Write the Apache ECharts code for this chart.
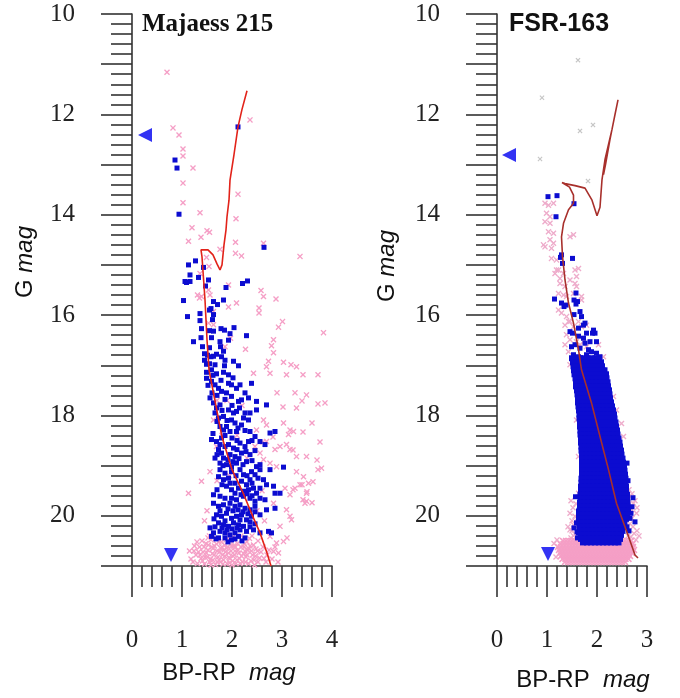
<!DOCTYPE html>
<html>
<head>
<meta charset="utf-8">
<script src="https://cdn.jsdelivr.net/npm/echarts@6/dist/echarts.min.js"></script>
<style>html,body{margin:0;padding:0;background:#fff}#c{width:680px;height:698px}</style>
</head>
<body>
<div id="c"></div>
<script>
// ---------------- DATA ----------------
const titles = ['Majaess 215', 'FSR-163'];
const xTicksLeft = [0, 1, 2, 3, 4];
const xTicksRight = [0, 1, 2, 3];
const yTickLabels = [10, 12, 14, 16, 18, 20];

// Majaess 215 : isochrone
const leftIsochrone = [[2.78,21.0],[2.70,20.74],[2.56,20.34],[2.42,20.02],[2.22,19.54],[2.00,19.08],[1.80,18.43],[1.54,17.09],[1.50,16.49],[1.46,15.70],[1.40,14.84],[1.38,14.70],[1.52,14.70],[1.62,14.80],[1.70,14.98],[1.76,15.10],[1.80,15.00],[1.84,14.60],[1.88,14.30],[1.90,14.04],[1.94,13.71],[1.96,13.31],[2.04,12.80],[2.12,12.25],[2.20,11.90],[2.30,11.53]];

// Majaess 215 : members (blue squares)
const leftBlue = [[2.12,12.25],[0.86,12.91],[0.90,13.07],[0.94,13.99],[2.64,14.65],
[1.13,15.00],[1.27,14.92],[1.43,15.05],[1.16,15.20],[1.33,15.25],[1.06,15.33],[1.09,15.35],[1.16,15.33],[1.53,15.30],[1.47,15.42],[1.88,15.45],[2.21,15.37],[2.31,15.32],
[1.03,15.71],[1.63,15.73],[1.71,15.79],[1.83,15.70],[1.55,15.90],[1.58,15.87],[1.36,15.97],[1.63,15.99],[1.11,16.03],[1.36,16.11],[1.61,16.09],[1.39,16.27],[1.78,16.27],[1.85,16.30],[2.04,16.25],[1.55,16.31],[1.63,16.32],[1.96,16.37],[2.29,16.41],[1.38,16.45],[1.59,16.45],[1.23,16.53],[1.76,16.53],[1.93,16.50],[1.41,16.63],[1.55,16.65],[1.77,16.63],[1.83,16.72],[1.69,16.78],[1.45,16.77],[1.51,16.80],[1.58,16.83],[1.63,16.82],[1.79,16.83],[1.86,16.90],[2.03,16.92],[2.13,17.01],[1.45,16.90],[1.49,16.98],[1.55,16.97],[1.66,16.99],[1.85,17.01],
[1.49,17.14],[1.59,17.09],[1.69,17.17],[1.83,17.14],[1.93,17.19],[1.49,17.26],[1.59,17.32],[1.66,17.39],[1.73,17.46],[1.93,17.36],[1.99,17.39],[2.09,17.46],[2.16,17.39],[2.39,17.36],
[1.79,17.52],[1.89,17.55],[1.99,17.62],[2.13,17.72],[2.19,17.69],[2.33,17.65],[2.49,17.72],[2.69,17.79],[1.63,17.75],[1.69,17.85],[1.76,17.79],[2.49,17.89],[2.36,17.95],[1.93,17.89],[2.03,17.95],[2.09,17.92],
[1.66,17.95],[1.73,18.05],[1.83,18.02],[2.23,18.05],[2.33,18.09],[2.19,18.19],[1.99,18.09],[2.06,18.15],[1.89,18.22],[1.76,18.22],[1.83,18.29],[1.96,18.32],[2.09,18.32],[2.36,18.32],[2.46,18.42],[2.76,18.35],[2.86,18.32],
[1.59,18.48],[1.69,18.52],[1.79,18.45],[1.93,18.58],[2.03,18.65],[2.16,18.55],[2.26,18.62],[2.33,18.52],[2.56,18.52],[2.66,18.58],[1.73,18.68],[1.79,18.75],[1.66,18.85],[1.83,18.85],[1.96,18.78],[2.06,18.82],[2.19,18.75],[2.36,18.78],
[1.76,18.95],[1.89,18.98],[1.99,19.02],[2.09,18.95],[2.29,18.92],[2.49,19.02],[2.56,18.98],[3.03,19.03],[1.76,19.08],[1.86,19.15],[1.99,19.12],[2.16,19.08],[2.23,19.18],[2.39,19.12],[2.46,19.18],[2.56,19.08],[2.63,19.28],[2.76,19.08],
[1.73,19.22],[1.83,19.28],[1.93,19.25],[2.06,19.35],[2.19,19.31],[2.29,19.38],[2.36,19.28],[2.69,19.38],[2.83,19.41],[1.89,19.41],[1.99,19.48],[2.13,19.45],[2.23,19.51],[2.33,19.48],[2.43,19.45],[2.49,19.55],[2.86,19.55],[2.96,19.55],
[1.63,19.58],[1.76,19.61],[1.86,19.65],[1.99,19.65],[2.09,19.68],[2.23,19.61],[2.36,19.65],[2.46,19.71],[2.56,19.65],[2.66,19.68],[1.63,19.75],[1.73,19.81],[1.83,19.78],[1.96,19.75],[2.06,19.81],[2.16,19.78],[2.26,19.85],[2.36,19.88],[2.46,19.81],[2.56,19.98],[2.69,19.88],[2.86,19.85],
[1.69,19.98],[1.79,20.01],[1.89,19.95],[1.99,20.05],[2.09,20.01],[2.19,19.98],[2.29,20.08],[2.39,20.01],[1.73,20.14],[1.83,20.18],[1.93,20.21],[2.03,20.14],[2.13,20.18],[2.23,20.21],
[1.56,20.24],[1.63,20.34],[1.76,20.31],[1.86,20.34],[1.96,20.38],[2.06,20.34],[2.16,20.28],[2.29,20.31],[2.43,20.28],[2.56,20.34],[2.73,20.31],[2.79,20.34],[1.59,20.41],[1.73,20.44],[1.86,20.44],[1.99,20.48],[2.13,20.41],[2.26,20.44],
[1.70,17.60],[1.86,17.68],[2.00,17.80],[1.80,17.90],[2.15,17.85],[2.26,17.95],[1.70,18.12],[1.90,18.10],[2.12,18.25],[2.26,18.30],[1.62,18.36],[1.86,18.40],[2.00,18.45],[2.10,18.50],[2.40,18.50],[1.76,18.58],[1.86,18.62],[2.10,18.68],[2.28,18.72],[2.46,18.70],[1.70,18.78],[1.92,18.88],[2.02,18.92],[2.14,18.86],[2.22,18.98],[2.40,18.90],[1.82,19.00],[2.08,19.20],[2.30,19.20],[2.52,19.25],[1.80,19.38],[1.96,19.35],[2.40,19.35],[2.56,19.45],[1.70,19.48],[2.06,19.55],[2.18,19.58],[2.30,19.56],[2.40,19.60],[1.92,19.86],[2.02,19.90],[2.12,19.88],[2.22,19.92],[2.32,19.96],[2.46,19.92],[1.76,19.90],[1.64,20.06],[1.86,20.10],[2.16,20.08],[2.36,20.12],[2.46,20.16],[1.66,20.22],[2.00,20.26],[2.10,20.24],[2.36,20.22],[1.80,20.24],[1.90,20.28],[1.68,20.46],[1.92,20.52],[2.20,20.50],[2.06,20.46],[1.62,17.20],[1.52,17.40],[1.60,17.55],[1.78,17.30],[2.02,17.25],[2.26,17.55],[1.56,17.65]];

// Majaess 215 : field stars (pink crosses)
const leftPink = [[0.70,11.16],[2.36,12.11],[0.82,12.27],[0.94,12.41],[1.02,12.69],[1.02,12.83],[1.22,13.07],[1.02,13.37],[1.02,13.76],[1.36,13.96],[2.12,13.59],[2.08,14.08],[1.20,14.26],[1.50,14.32],[1.38,14.45],
[1.55,14.35],[1.13,14.53],[2.07,14.55],[2.07,14.77],[2.19,14.82],[2.63,14.57],[3.36,14.83],[1.76,14.69],[1.49,14.85],[1.54,15.03],[1.36,15.17],[1.93,15.40],[1.53,15.50],[1.56,15.60],[1.31,15.60],[1.35,15.66],[1.39,15.63],[2.58,15.51],[2.63,15.63],[2.88,15.68],[2.09,15.76],[1.93,15.84],[2.54,15.86],[2.54,15.96],[1.63,15.93],[3.01,16.13],[2.93,16.24],[3.83,16.35],[1.53,16.16],[1.63,16.19],[2.83,16.49],[2.79,16.61],[1.97,16.46],[1.86,16.63],[2.27,16.68],[2.83,16.75],[2.73,16.92],[3.03,16.94],[3.18,16.99],[3.29,17.03],[2.69,17.03],
[3.72,17.19],[3.42,17.19],[3.26,17.55],[3.40,17.71],[3.72,17.77],[3.86,17.75],[3.60,18.15],[3.42,18.33],[3.76,18.53],[3.16,18.29],[3.22,18.69],[3.70,18.89],[2.90,17.55],[3.02,17.83],[2.82,18.43],[2.62,18.53],
[2.43,17.16],[2.76,17.16],[3.09,17.19],[3.49,17.59],[3.29,17.85],[3.03,18.15],[3.13,18.38],[3.23,18.32],[3.09,18.58],[2.69,18.52],[2.86,18.68],[2.96,18.62],[3.16,18.68],[3.29,18.82],[3.49,18.82],[3.79,19.05],[3.72,19.08],
[2.63,18.88],[2.76,18.95],[2.89,19.02],[3.29,19.12],[3.43,19.22],[3.53,19.35],[3.36,19.38],[3.49,19.55],[3.26,19.45],[3.06,19.45],[3.16,19.58],[3.49,19.71],[3.46,19.75],[1.39,19.31],[1.13,19.55],[1.56,19.12],
[2.56,18.75],[2.46,18.62],[1.63,18.09],[1.69,18.62],[2.49,18.29],[2.63,18.09],[2.69,18.19],[2.83,19.75],[3.09,19.88],[3.19,20.08],[2.96,20.21],[2.76,20.41],[2.89,20.54],[3.03,20.51],[3.16,20.01],[2.93,20.74],[2.83,20.71],
[3.10,20.44],[2.70,20.78],[3.42,19.68],[3.50,19.52],[3.62,19.32],[3.40,19.38],[3.22,19.48],[3.60,19.74],
[1.70,17.70],[1.90,17.70],[2.20,17.80],[1.80,18.40],[2.10,18.40],[2.30,18.85],[1.95,19.20],[2.60,19.50],[1.70,19.30],[2.50,19.90],[2.40,20.40],[1.45,20.10],[1.50,19.90],[2.65,20.10],
[1.22,20.92],[1.28,20.78],[1.31,20.95],[1.35,20.62],[1.38,20.85],[1.42,20.72],[1.45,20.96],[1.48,20.55],[1.51,20.82],[1.52,20.68],[1.55,20.92],[1.58,20.48],[1.61,20.75],[1.62,20.88],[1.65,20.60],[1.67,20.97],[1.70,20.70],[1.72,20.82],[1.74,20.52],[1.77,20.92],[1.78,20.65],[1.81,20.78],[1.83,20.88],[1.85,20.58],[1.87,20.72],[1.90,20.95],[1.92,20.62],[1.94,20.83],[1.97,20.50],[1.98,20.70],[2.01,20.90],[2.03,20.60],[2.05,20.78],[2.08,20.95],[2.11,20.55],[2.12,20.68],[2.15,20.85],[2.18,20.62],[2.21,20.92],[2.23,20.75],[2.25,20.56],[2.28,20.82],[2.31,20.68],[2.33,20.95],[2.36,20.60],[2.41,20.78],[2.44,20.88],[2.48,20.66],[2.52,20.92],[2.58,20.72],[2.64,20.85],
[1.40,20.50],[1.55,20.40],[1.68,20.45],[1.88,20.48],[2.02,20.42],[2.35,20.45],[1.33,20.72],[1.46,20.82],[1.62,20.65],[1.74,20.88],[1.84,20.68],[1.96,20.85],[2.06,20.70],[2.16,20.95],[2.26,20.70],[2.38,20.90],[1.25,20.60],[1.58,20.98],[2.00,20.98],[2.45,20.98],[1.15,20.70],
[1.18,20.86],[1.24,20.70],[1.30,20.52],[1.36,20.78],[1.41,20.90],[1.44,20.62],[1.49,20.74],[1.53,20.58],[1.57,20.86],[1.60,20.62],[1.64,20.78],[1.69,20.56],[1.71,20.92],[1.75,20.72],[1.80,20.62],[1.82,20.96],[1.86,20.80],[1.89,20.64],[1.93,20.74],[1.95,20.94],[1.99,20.60],[2.02,20.80],[2.07,20.62],[2.10,20.88],[2.14,20.74],[2.19,20.80],[2.24,20.62],[2.27,20.92],[2.30,20.78],[2.34,20.66],[2.39,20.70],[2.43,20.58],[2.47,20.80],[2.51,20.70],[2.55,20.84],[2.62,20.62],[2.68,20.92],[2.74,20.68],[2.80,20.86],[2.86,20.62],[2.92,20.92],[1.52,20.44],[1.62,20.40],[1.79,20.52],[1.95,20.40],[2.18,20.40],[2.30,20.52],[2.52,20.50]];

// Majaess 215 : reference markers
const leftMarkerSide = [[0.26,12.41]];
const leftMarkerDown = [[0.78,20.78]];

// FSR-163 : isochrone
const rightIsochrone = [[2.82,20.84],[2.76,20.78],[2.63,20.41],[2.53,20.14],[2.39,19.75],[2.23,19.08],[2.06,18.42],[1.89,17.75],[1.69,17.09],[1.63,16.69],[1.53,16.16],[1.43,15.76],[1.36,15.30],[1.31,14.83],[1.29,14.44],[1.33,14.17],[1.43,13.90],[1.53,13.77],[1.53,13.61],[1.45,13.45],[1.30,13.36],[1.26,13.33],[1.36,13.38],[1.56,13.42],[1.76,13.47],[1.90,13.71],[2.00,14.02],[2.06,13.85],[2.10,13.30],[2.16,12.90],[2.30,12.30],[2.42,11.71],[2.36,12.00],[2.26,12.50],[2.17,13.00],[2.13,13.20]];

// FSR-163 : members, scattered part
const rightBlue = [[1.02,13.64],[1.20,13.62],[1.54,13.78],[1.18,14.04],[1.29,14.80],[1.27,14.85],[1.31,14.97],[1.51,14.87],[1.15,15.68],[1.29,15.76],[1.34,15.83],[1.38,15.80],[1.54,15.70],[1.58,15.78],[1.54,15.99],[1.66,15.93],[1.69,16.03],[1.76,16.16],[1.73,16.20],[1.63,16.26],[1.46,16.33],[1.51,16.36],[1.79,16.36],[1.91,16.36],[1.93,16.30],[1.63,16.42],[1.73,16.46],[1.56,16.59],[1.49,16.63],[1.66,16.66],[1.76,16.56],[1.86,16.53],[1.99,16.53],[1.89,16.73],[1.99,16.76],[2.06,16.83],[1.79,16.79],[1.63,16.83],[1.53,16.79],[1.61,15.73],[1.58,15.56],[1.96,16.36],[1.83,16.69],
[1.60,20.32],[1.74,19.88],[2.72,19.64],[2.76,20.12],[2.60,20.22],[1.63,19.91],[1.59,20.14],[1.63,20.34],[2.68,19.95],[2.66,20.05],[2.62,19.30],[2.60,18.95],[1.57,19.62],[1.54,20.24],[1.61,20.44],[2.70,19.82],[2.64,20.30]];

// FSR-163 : members, dense part, one row per magnitude level: [G, BP-RP values...]
const rightBlueRows = [
[16.86,1.50,1.58,1.66,1.73,1.81,1.90,1.97,2.04],
[16.94,1.52,1.59,1.67,1.76,1.84,1.91,2.00,2.08],
[17.02,1.53,1.61,1.68,1.77,1.85,1.93,2.02,2.10],
[17.10,1.54,1.62,1.70,1.78,1.87,1.94,2.03,2.11,2.15],
[17.18,1.55,1.63,1.71,1.80,1.88,1.96,2.04,2.12,2.18],
[17.26,1.57,1.65,1.73,1.81,1.89,1.97,2.05,2.13,2.19],
[17.34,1.58,1.66,1.74,1.82,1.90,1.98,2.06,2.14,2.21],
[17.42,1.58,1.66,1.75,1.83,1.91,1.99,2.07,2.15,2.22],
[17.50,1.60,1.68,1.76,1.84,1.92,2.00,2.08,2.16,2.24],
[17.58,1.61,1.69,1.77,1.85,1.93,2.01,2.09,2.17,2.25],
[17.66,1.62,1.70,1.78,1.86,1.94,2.02,2.10,2.18,2.26],
[17.74,1.62,1.70,1.78,1.86,1.94,2.02,2.10,2.18,2.28],
[17.82,1.63,1.71,1.79,1.87,1.95,2.03,2.11,2.19,2.27,2.30],
[17.90,1.64,1.72,1.80,1.88,1.96,2.04,2.12,2.20,2.28,2.32],
[17.98,1.65,1.73,1.81,1.89,1.97,2.05,2.13,2.21,2.29,2.34],
[18.06,1.65,1.73,1.81,1.89,1.97,2.05,2.13,2.21,2.29,2.35],
[18.14,1.66,1.74,1.82,1.90,1.98,2.06,2.14,2.22,2.30,2.37],
[18.22,1.66,1.74,1.82,1.90,1.98,2.06,2.14,2.22,2.30,2.38],
[18.30,1.67,1.75,1.83,1.91,1.99,2.07,2.15,2.23,2.31,2.40],
[18.38,1.67,1.75,1.83,1.91,1.99,2.07,2.15,2.23,2.31,2.41],
[18.46,1.68,1.76,1.84,1.92,2.00,2.08,2.16,2.24,2.32,2.43],
[18.54,1.68,1.76,1.84,1.92,2.00,2.08,2.16,2.24,2.32,2.40,2.45],
[18.62,1.69,1.77,1.85,1.93,2.01,2.09,2.17,2.25,2.33,2.41,2.46],
[18.70,1.69,1.77,1.85,1.93,2.01,2.09,2.17,2.25,2.33,2.41,2.48],
[18.78,1.70,1.78,1.86,1.94,2.02,2.10,2.18,2.26,2.34,2.42,2.49],
[18.86,1.70,1.78,1.86,1.94,2.02,2.10,2.18,2.26,2.34,2.42,2.51],
[18.94,1.70,1.78,1.86,1.94,2.02,2.10,2.18,2.26,2.34,2.42,2.52],
[19.02,1.70,1.78,1.86,1.94,2.02,2.10,2.18,2.26,2.34,2.42,2.50,2.54],
[19.10,1.70,1.78,1.86,1.94,2.02,2.10,2.18,2.26,2.34,2.42,2.50,2.55],
[19.18,1.70,1.78,1.86,1.94,2.02,2.10,2.18,2.26,2.34,2.42,2.50,2.56],
[19.26,1.69,1.77,1.85,1.93,2.01,2.09,2.17,2.25,2.33,2.41,2.49,2.57],
[19.34,1.69,1.77,1.85,1.93,2.01,2.09,2.17,2.25,2.33,2.41,2.49,2.57],
[19.42,1.68,1.76,1.84,1.92,2.00,2.08,2.16,2.24,2.32,2.40,2.48,2.58],
[19.50,1.68,1.76,1.84,1.92,2.00,2.08,2.16,2.24,2.32,2.40,2.48,2.58],
[19.58,1.67,1.75,1.83,1.91,1.99,2.07,2.15,2.23,2.31,2.39,2.47,2.55,2.60],
[19.66,1.67,1.75,1.83,1.91,1.99,2.07,2.15,2.23,2.31,2.39,2.47,2.55,2.60],
[19.74,1.66,1.74,1.82,1.90,1.98,2.06,2.14,2.22,2.30,2.38,2.46,2.54,2.61],
[19.82,1.66,1.74,1.82,1.90,1.98,2.06,2.14,2.22,2.30,2.38,2.46,2.54,2.61],
[19.90,1.65,1.73,1.81,1.89,1.97,2.05,2.13,2.21,2.29,2.37,2.45,2.53,2.62],
[19.98,1.64,1.72,1.80,1.88,1.96,2.04,2.12,2.20,2.28,2.36,2.44,2.52,2.60],
[20.06,1.64,1.72,1.80,1.88,1.96,2.04,2.12,2.20,2.28,2.36,2.44,2.52,2.58],
[20.14,1.65,1.73,1.81,1.89,1.97,2.05,2.13,2.21,2.29,2.37,2.45,2.55],
[20.22,1.65,1.73,1.81,1.89,1.97,2.05,2.13,2.21,2.29,2.37,2.45,2.53],
[20.30,1.66,1.74,1.82,1.90,1.98,2.06,2.14,2.22,2.30,2.38,2.46,2.51],
[20.38,1.67,1.75,1.83,1.91,1.99,2.07,2.15,2.23,2.31,2.39,2.48],
[20.46,1.68,1.76,1.84,1.92,2.00,2.08,2.16,2.24,2.32,2.40,2.46],
[20.53,1.72,1.80,1.88,1.96,2.04,2.12,2.20,2.28,2.36,2.43]];

// FSR-163 : bright field stars (grey crosses)
const rightGrey = [[1.62,10.92],[0.90,11.67],[1.66,12.33],[1.92,12.21],[0.86,12.89],[1.82,13.33]];

// FSR-163 : field stars (pink crosses), scattered part
const rightPink = [[0.96,13.77],[1.03,13.81],[1.13,13.77],[0.99,13.97],[1.06,14.04],[0.96,14.14],[1.06,14.17],[1.03,14.34],[1.13,14.37],[0.96,14.64],[1.09,14.67],[1.13,14.57],[1.46,14.44],[1.53,14.40],[1.09,14.87],[1.19,14.90],[1.23,15.10],[1.16,15.17],[1.33,15.17],[1.56,15.10],[1.63,15.07],[1.26,15.37],[1.36,15.43],[1.46,15.30],[1.59,15.23],[1.56,15.37],[1.23,15.57],[1.39,15.63],[1.53,15.57],[1.69,15.70],[1.29,15.96],[1.39,16.03],[1.46,16.13],[1.36,16.20],[1.53,16.23],[1.63,16.13],[1.69,16.23],[1.39,16.39],[1.46,16.49],[1.36,16.59],[1.59,16.53],[1.79,16.63],[1.43,16.73],[1.53,16.89],[1.46,16.99],[2.03,16.59],[2.13,16.83],
[0.93,14.60],[1.06,14.50],[1.19,15.10],[1.26,15.27],[1.59,15.43],[1.33,15.60],[1.69,15.63],[1.23,15.90],[1.43,16.13],[1.79,16.20],[1.66,16.59],[1.73,16.53],
[2.13,17.23],[2.19,17.29],[2.33,17.62],[2.39,17.89],[2.49,18.16],[2.53,18.42],[1.66,17.36],[1.69,17.56],[1.59,18.09],[1.63,18.82],[1.63,19.55],[1.56,20.01],[1.53,20.18],[1.46,20.28],[2.46,18.82],[2.39,18.68],[2.53,19.45],[2.66,19.61],[2.73,19.75],[2.69,19.88],[2.79,19.95],[2.59,20.21],[2.70,20.05],[2.74,20.35],[2.72,20.55],[1.14,20.55],[1.20,20.48],[1.18,20.82],[1.50,20.30],[1.53,20.40],
[1.48,19.70],[1.52,19.84],[1.58,19.76],[1.46,19.95],[1.60,20.06],[1.50,20.10],[1.56,20.36],[1.42,20.22],[1.62,20.26],[1.48,20.44],[1.58,20.50],
[2.64,19.48],[2.70,19.56],[2.76,19.70],[2.64,19.78],[2.80,19.84],[2.66,20.16],[2.72,20.22],[2.80,20.30],[2.68,20.42],[2.78,20.48],[2.84,20.40],[2.62,20.40]];

// FSR-163 : faint field stars, dense band, one row per magnitude level
const rightPinkRows = [
[20.50,1.32,1.38,1.44,1.50,1.56,1.62,2.50,2.56,2.62,2.68],
[20.56,1.27,1.33,1.39,1.45,1.51,1.57,1.63,1.69,1.75,1.81,1.87,1.93,1.99,2.05,2.11,2.17,2.23,2.29,2.35,2.41,2.47,2.53,2.59,2.65,2.71],
[20.62,1.22,1.28,1.34,1.40,1.46,1.52,1.58,1.64,1.70,1.76,1.82,1.88,1.94,2.00,2.06,2.12,2.18,2.24,2.30,2.36,2.42,2.48,2.54,2.60,2.66,2.72],
[20.68,1.24,1.30,1.36,1.42,1.48,1.54,1.60,1.66,1.72,1.78,1.84,1.90,1.96,2.02,2.08,2.14,2.20,2.26,2.32,2.38,2.44,2.50,2.56,2.62,2.68,2.74],
[20.74,1.26,1.32,1.38,1.44,1.50,1.56,1.62,1.68,1.74,1.80,1.86,1.92,1.98,2.04,2.10,2.16,2.22,2.28,2.34,2.40,2.46,2.52,2.58,2.64,2.70],
[20.80,1.28,1.34,1.40,1.46,1.52,1.58,1.64,1.70,1.76,1.82,1.88,1.94,2.00,2.06,2.12,2.18,2.24,2.30,2.36,2.42,2.48,2.54,2.60,2.66],
[20.86,1.31,1.37,1.43,1.49,1.55,1.61,1.67,1.73,1.79,1.85,1.91,1.97,2.03,2.09,2.15,2.21,2.27,2.33,2.39,2.45,2.51,2.57,2.63],
[20.92,1.36,1.42,1.48,1.54,1.60,1.66,1.72,1.78,1.84,1.90,1.96,2.02,2.08,2.14,2.20,2.26,2.32,2.38,2.44,2.50,2.56]];

// FSR-163 : reference markers
const rightMarkerSide = [[0.24,12.81]];
const rightMarkerDown = [[1.02,20.76]];

// ---------------- CHART ----------------
const rowsToPoints = rows => rows.flatMap(r => r.slice(1).map(x => [x, r[0]]));

const BLUE = '#0c0cd0';
const PINK = '#f59fc6';
const CROSS = 'path://M0,1.6L1.6,0L5,3.4L8.4,0L10,1.6L6.6,5L10,8.4L8.4,10L5,6.6L1.6,10L0,8.4L3.4,5Z';
const AXIS = '#333333';

function yAxisFor(gi) {
  return {
    gridIndex: gi, type: 'value', inverse: true, min: 10, max: 21, interval: 1,
    axisLine: {show: true, onZero: false, lineStyle: {color: AXIS, width: 1.6}},
    axisTick: {show: true, length: 31, lineStyle: {color: AXIS, width: 1.6}},
    minorTick: {show: true, splitNumber: 5, length: 21, lineStyle: {color: AXIS, width: 1.6}},
    splitLine: {show: false},
    axisLabel: {
      margin: 57, fontFamily: 'Liberation Serif', fontSize: 25, color: '#222',
      formatter: v => (yTickLabels.indexOf(v) >= 0 ? String(v) : '')
    }
  };
}
function xAxisFor(gi, ticks) {
  return {
    gridIndex: gi, type: 'value', min: ticks[0], max: ticks[ticks.length - 1], interval: 1,
    position: 'bottom',
    axisLine: {show: true, onZero: false, lineStyle: {color: AXIS, width: 1.6}},
    axisTick: {show: true, length: 31, lineStyle: {color: AXIS, width: 1.6}},
    minorTick: {show: true, splitNumber: 5, length: 21, lineStyle: {color: AXIS, width: 1.6}},
    splitLine: {show: false},
    axisLabel: {margin: 62, fontFamily: 'Liberation Serif', fontSize: 25, color: '#222',
      showMinLabel: true, showMaxLabel: true}
  };
}
function scatter(gi, data, symbol, size, color, z) {
  return {type: 'scatter', xAxisIndex: gi, yAxisIndex: gi, data, symbol, symbolSize: size,
    itemStyle: {color, opacity: 1}, z: z || 2, silent: true};
}
function marker(gi, data, rot) {
  return {type: 'scatter', xAxisIndex: gi, yAxisIndex: gi, data, symbol: 'triangle',
    symbolSize: 14, symbolRotate: rot, itemStyle: {color: '#0000f0'}, z: 6, silent: true};
}
function iso(gi, data, color) {
  return {type: 'line', xAxisIndex: gi, yAxisIndex: gi, data, showSymbol: false, symbol: 'none',
    lineStyle: {color, width: 1.6}, z: 5, silent: true, clip: true};
}
const richName = {
  n: {fontFamily: 'Liberation Sans', fontSize: 24, fill: '#111'},
  i: {fontFamily: 'Liberation Sans', fontSize: 24, fontStyle: 'italic', fill: '#111'}
};

const option = {
  animation: false,
  backgroundColor: '#ffffff',
  title: [
    {text: titles[0], left: 142, top: 12, padding: 0,
     textStyle: {fontFamily: 'Liberation Serif', fontWeight: 'bold', fontSize: 25, color: '#111'}},
    {text: titles[1], left: 509, top: 12, padding: 0,
     textStyle: {fontFamily: 'Liberation Sans', fontWeight: 'bold', fontSize: 25, color: '#111'}}
  ],
  grid: [
    {left: 132, top: 14, width: 200, height: 552},
    {left: 497, top: 14, width: 150, height: 552}
  ],
  xAxis: [xAxisFor(0, xTicksLeft), xAxisFor(1, xTicksRight)],
  yAxis: [yAxisFor(0), yAxisFor(1)],
  graphic: [
    {type: 'text', x: 25, y: 262, rotation: Math.PI / 2,
     style: {text: '{n|G }{i|mag}', textAlign: 'center', textVerticalAlign: 'middle', rich: richName}},
    {type: 'text', x: 387, y: 266, rotation: Math.PI / 2,
     style: {text: '{n|G }{i|mag}', textAlign: 'center', textVerticalAlign: 'middle', rich: richName}},
    {type: 'text', x: 229, y: 673,
     style: {text: '{n|BP-RP  }{i|mag}', textAlign: 'center', textVerticalAlign: 'middle', rich: richName}},
    {type: 'text', x: 583, y: 680,
     style: {text: '{n|BP-RP  }{i|mag}', textAlign: 'center', textVerticalAlign: 'middle', rich: richName}}
  ],
  series: [
    scatter(0, leftPink, CROSS, 6, PINK, 2),
    scatter(0, leftBlue, 'rect', 5, BLUE, 3),
    iso(0, leftIsochrone, '#e2231a'),
    marker(0, leftMarkerSide, 90),
    marker(0, leftMarkerDown, 180),
    scatter(1, rightGrey, CROSS, 5, '#c6c6c6', 2),
    scatter(1, rightPink, CROSS, 6, '#eeaccb', 2),
    scatter(1, rowsToPoints(rightPinkRows), CROSS, 7, PINK, 2),
    scatter(1, rightBlue, 'rect', 5, BLUE, 3),
    scatter(1, rowsToPoints(rightBlueRows), 'rect', 6, BLUE, 3),
    iso(1, rightIsochrone, '#a8302c'),
    marker(1, rightMarkerSide, 90),
    marker(1, rightMarkerDown, 180)
  ]
};
const chart = echarts.init(document.getElementById('c'), null, {renderer: 'canvas'});
chart.setOption(option);
</script>
</body>
</html>
